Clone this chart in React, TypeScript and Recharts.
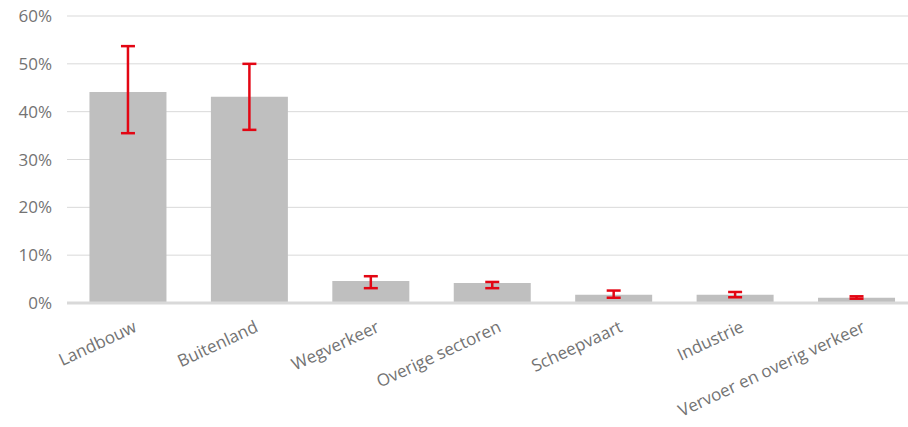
import { BarChart, Bar, XAxis, YAxis, CartesianGrid, ErrorBar } from 'recharts';

const categories = [
  'Landbouw',
  'Buitenland',
  'Wegverkeer',
  'Overige sectoren',
  'Scheepvaart',
  'Industrie',
  'Vervoer en overig verkeer',
];
const shares = [44.1, 43.1, 4.6, 4.2, 1.7, 1.7, 1.1];
const lowerBounds = [35.5, 36.2, 3.1, 3.1, 1.1, 1.2, 0.9];
const upperBounds = [53.7, 50.0, 5.6, 4.4, 2.6, 2.3, 1.4];
const yTicks = [0, 10, 20, 30, 40, 50, 60];

const FONT = '"Open Sans", sans-serif';
const TEXT_COLOR = '#737373';

const chartData = categories.map((name, i) => ({
  name,
  value: shares[i],
  err: [shares[i] - lowerBounds[i], upperBounds[i] - shares[i]],
}));

const AngledTick = ({ x, y, payload }: any) => {
  const ax = x + 5;
  const ay = y + 17;
  return (
    <text
      x={ax}
      y={ay}
      dy="0.71em"
      textAnchor="end"
      fill={TEXT_COLOR}
      fontSize={17}
      fontFamily={FONT}
      transform={`rotate(-25, ${ax}, ${ay})`}
    >
      {payload.value}
    </text>
  );
};

export default function App() {
  return (
    <div style={{ position: 'absolute', left: 0, top: 0, width: 908, height: 427, overflow: 'hidden' }}>
      <BarChart
        width={917}
        height={427}
        data={chartData}
        margin={{ top: 16, right: 0, bottom: 0, left: 0 }}
        barCategoryGap="18.5%"
      >
        <CartesianGrid vertical={false} stroke="#d9d9d9" strokeWidth={1} />
        <XAxis
          dataKey="name"
          interval={0}
          height={124}
          tickLine={false}
          tickSize={0}
          tickMargin={0}
          axisLine={{ stroke: '#d9d9d9', strokeWidth: 3 }}
          tick={<AngledTick />}
        />
        <YAxis
          width={67}
          domain={[0, 60]}
          ticks={yTicks}
          interval={0}
          axisLine={false}
          tickLine={false}
          tickMargin={9}
          tickFormatter={(v: number) => `${v}%`}
          tick={{ fill: TEXT_COLOR, fontSize: 17, fontFamily: FONT }}
        />
        <Bar dataKey="value" fill="#bfbfbf" isAnimationActive={false}>
          <ErrorBar dataKey="err" width={7} stroke="#e30613" strokeWidth={2.5} />
        </Bar>
      </BarChart>
    </div>
  );
}
